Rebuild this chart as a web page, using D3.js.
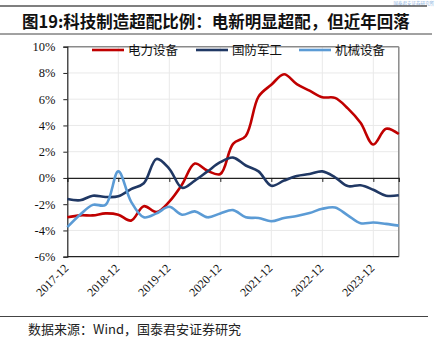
<!DOCTYPE html>
<html><head><meta charset="utf-8">
<script src="https://cdn.jsdelivr.net/npm/d3@7/dist/d3.min.js"></script>
<style>body{margin:0;background:#fff;}svg{display:block;}</style>
</head><body>
<script>
const quarters = ["2017-12","2018-03","2018-06","2018-09","2018-12","2019-03","2019-06","2019-09","2019-12","2020-03","2020-06","2020-09","2020-12","2021-03","2021-06","2021-09","2021-12","2022-03","2022-06","2022-09","2022-12","2023-03","2023-06","2023-09","2023-12","2024-03","2024-06"];
const seriesNames = ["电力设备","国防军工","机械设备"];
const power   = [-3.0,-2.85,-2.85,-2.7,-2.8,-3.25,-2.15,-2.6,-1.8,-0.5,1.1,0.55,0.3,2.6,3.2,6.2,7.1,7.9,7.15,6.65,6.15,6.1,5.3,4.2,2.55,3.75,3.35];
const defense = [-1.6,-1.7,-1.35,-1.45,-1.4,-0.85,-0.4,1.45,0.7,-0.75,-0.2,0.5,1.2,1.55,0.95,0.5,-0.6,-0.2,0.15,0.3,0.5,0.05,-0.62,-0.56,-0.9,-1.35,-1.32];
const machine = [-3.75,-2.8,-2.05,-2.05,0.5,-1.8,-3.0,-2.7,-2.2,-2.8,-2.55,-3.0,-2.7,-2.45,-3.0,-3.05,-3.3,-3.05,-2.9,-2.67,-2.35,-2.25,-2.85,-3.45,-3.4,-3.5,-3.63];
const yTicks = [-6,-4,-2,0,2,4,6,8,10];
const xTickLabels = ["2017-12","2018-12","2019-12","2020-12","2021-12","2022-12","2023-12"];
const colors = ["#C00000","#203864","#5B9BD5"];

const W=436,H=347;
const svg=d3.select("body").append("svg").attr("width",W).attr("height",H);
const serif="'Liberation Serif','Times New Roman',serif";
const cjk="'Noto Sans CJK SC','Noto Sans',sans-serif";

// header decorations
svg.append("text").attr("x",434).attr("y",4.9).attr("text-anchor","end").attr("font-family",cjk).attr("font-size",4.5).attr("fill","#8fb2de").text("国泰君安证券研究所");
svg.append("line").attr("x1",0).attr("x2",427).attr("y1",6).attr("y2",6).attr("stroke","#555").attr("stroke-width",1.5);
svg.append("text").attr("x",22).attr("y",28).attr("font-family",cjk).attr("font-weight","bold").attr("font-size",16.5).attr("fill","#111")
  .text("图19:科技制造超配比例：电新明显超配，但近年回落");
svg.append("line").attr("x1",0).attr("x2",432).attr("y1",34).attr("y2",34).attr("stroke","#444").attr("stroke-width",1);
svg.append("line").attr("x1",0).attr("x2",428).attr("y1",316.5).attr("y2",316.5).attr("stroke","#444").attr("stroke-width",1);
svg.append("text").attr("x",28).attr("y",334).attr("font-family",cjk).attr("font-size",13).attr("fill","#222")
  .text("数据来源：Wind，国泰君安证券研究");

const x=d3.scaleLinear().domain([0,quarters.length-1]).range([67.3,398.8]);
const y=d3.scaleLinear().domain([-6,10]).range([256.7,46.7]);
const yearIdx = xTickLabels.map(l=>quarters.indexOf(l));

// gridlines
svg.append("g").selectAll("line").data(yTicks.filter(v=>v!==0&&v!==-6&&v!==10)).join("line")
  .attr("x1",x(0)).attr("x2",x(quarters.length-1)).attr("y1",d=>y(d)).attr("y2",d=>y(d))
  .attr("stroke","#e9e9e9").attr("stroke-width",1);
svg.append("g").selectAll("line").data(yearIdx.slice(1)).join("line")
  .attr("x1",d=>x(d)).attr("x2",d=>x(d)).attr("y1",y(10)).attr("y2",y(-6))
  .attr("stroke","#e9e9e9").attr("stroke-width",1);

// borders
svg.append("line").attr("x1",x(0)).attr("x2",x(quarters.length-1)).attr("y1",y(10)).attr("y2",y(10)).attr("stroke","#8a8a8a").attr("stroke-width",1.5);
svg.append("line").attr("x1",x(quarters.length-1)).attr("x2",x(quarters.length-1)).attr("y1",y(10)).attr("y2",y(-6)).attr("stroke","#8a8a8a").attr("stroke-width",1.5);
svg.append("line").attr("x1",x(0)).attr("x2",x(quarters.length-1)).attr("y1",y(-6)).attr("y2",y(-6)).attr("stroke","#222").attr("stroke-width",1.2);

// y axis
const yAxis=svg.append("g").attr("transform",`translate(${x(0)},0)`)
  .call(d3.axisLeft(y).tickValues(yTicks).tickSize(4).tickPadding(8).tickFormat(d=>d+"%"));
yAxis.select(".domain").attr("stroke","#222").attr("stroke-width",1.2);
yAxis.selectAll(".tick line").attr("stroke","#222");
yAxis.selectAll("text").attr("font-family",serif).attr("font-size",12.5).attr("fill","#111");

// x axis at zero
const xAxis=svg.append("g").attr("transform",`translate(0,${y(0)})`)
  .call(d3.axisBottom(x).tickValues(yearIdx).tickSize(4).tickFormat(""));
xAxis.select(".domain").attr("stroke","#222").attr("stroke-width",1.2);
xAxis.selectAll(".tick line").attr("stroke","#222");

// x labels
svg.append("g").selectAll("text").data(yearIdx).join("text")
  .attr("transform",d=>`translate(${x(d)+2},${269}) rotate(-45)`)
  .attr("text-anchor","end").attr("font-family",serif).attr("font-size",12).attr("fill","#111")
  .text(d=>quarters[d]);

// lines
const data=[power,defense,machine];
const line=d3.line().x((d,i)=>x(i)).y(d=>y(d)).curve(d3.curveCatmullRom.alpha(0.5));
svg.append("g").selectAll("path").data(data).join("path")
  .attr("d",d=>line(d)).attr("fill","none").attr("stroke",(d,i)=>colors[i]).attr("stroke-width",2.6).attr("stroke-linejoin","round");

// legend
const legX=[[92,124,128],[196,228,232],[299,331,335]];
const leg=svg.append("g");
seriesNames.forEach((n,i)=>{
  leg.append("line").attr("x1",legX[i][0]).attr("x2",legX[i][1]).attr("y1",50).attr("y2",50).attr("stroke",colors[i]).attr("stroke-width",2.6);
  leg.append("text").attr("x",legX[i][2]).attr("y",54.5).attr("font-family",cjk).attr("font-size",12.5).attr("fill","#111").text(n);
});
</script>
</body></html>
